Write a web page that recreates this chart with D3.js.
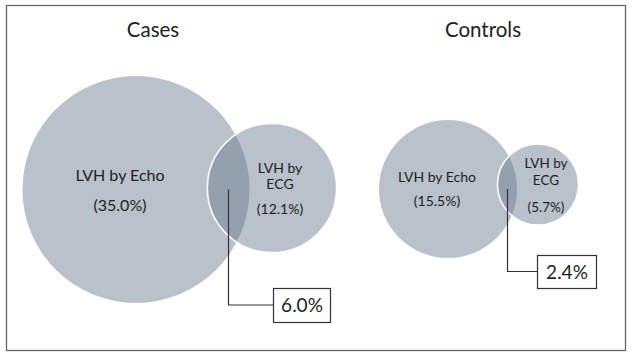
<!DOCTYPE html>
<html><head><meta charset="utf-8">
<script src="https://cdn.jsdelivr.net/npm/d3@7/dist/d3.min.js"></script>
<style>html,body{margin:0;padding:0;background:#fff;}svg{display:block;font-family:Lato,"Open Sans",sans-serif;}</style>
</head><body>
<script>
// ---- data ----
const groups = ["Cases", "Controls"];
const echoPct = [35.0, 15.5];
const ecgPct = [12.1, 5.7];
const bothPct = [6.0, 2.4];
const echoLabel = "LVH by Echo";
const ecgLabel = ["LVH by", "ECG"];

// ---- layout ----
const W = 632, H = 357;
const layout = [
  {echoCx: 136, ecgCx: 272, echoCy: 189.5, ecgCy: 188, rMax: 113.5, titleX: 153,
   echoLx: -16, echoFs: 16, echoDy: [-9, 21], ecgFs: 14, ecgDy: [-15.5, 0.5, 26],
   box: {x: 273, y: 288, w: 57, h: 34}, boxFs: 19},
  {echoCx: 448, ecgCx: 538, echoCy: 189, ecgCy: 184.5, rMax: 69, titleX: 483,
   echoLx: -11, echoFs: 14, echoDy: [-7, 17], ecgFs: 13.5, ecgDy: [-16.5, 0.5, 27.5],
   box: {x: 537, y: 255, w: 59, h: 33}, boxFs: 19}
];
const fillMain = "#b9c1cb", fillBoth = "#95a0af", ink = "#222";

const svg = d3.select("body").append("svg").attr("width", W).attr("height", H);
svg.append("rect").attr("x", 6.5).attr("y", 5.5).attr("width", 619).attr("height", 345)
  .attr("fill", "#fff").attr("stroke", "#666").attr("stroke-width", 1.3);

const defs = svg.append("defs");

groups.forEach((g, i) => {
  const L = layout[i];
  const r = d3.scalePow().exponent(0.53).domain([0, echoPct[i]]).range([0, L.rMax]);
  const r1 = r(echoPct[i]), r2 = r(ecgPct[i]);
  const G = svg.append("g");

  G.append("text").attr("x", L.titleX).attr("y", 37).attr("text-anchor", "middle")
    .attr("font-size", 20.5).attr("fill", ink).text(g);

  G.append("circle").attr("cx", L.echoCx).attr("cy", L.echoCy).attr("r", r1).attr("fill", fillMain);
  G.append("circle").attr("cx", L.ecgCx).attr("cy", L.ecgCy).attr("r", r2).attr("fill", fillMain);

  const cid = "clip" + i;
  defs.append("clipPath").attr("id", cid).append("circle")
    .attr("cx", L.echoCx).attr("cy", L.echoCy).attr("r", r1);
  G.append("circle").attr("cx", L.ecgCx).attr("cy", L.ecgCy).attr("r", r2)
    .attr("fill", fillBoth).attr("clip-path", `url(#${cid})`);
  G.append("circle").attr("cx", L.ecgCx).attr("cy", L.ecgCy).attr("r", r2)
    .attr("fill", "none").attr("stroke", "#fff").attr("stroke-width", 1.6);

  // labels
  const ex = L.echoCx + L.echoLx;
  G.append("text").attr("x", ex).attr("y", L.echoCy + L.echoDy[0]).attr("text-anchor", "middle")
    .attr("font-size", L.echoFs).attr("fill", ink).text(echoLabel);
  G.append("text").attr("x", ex).attr("y", L.echoCy + L.echoDy[1]).attr("text-anchor", "middle")
    .attr("font-size", L.echoFs).attr("fill", ink).text(`(${echoPct[i].toFixed(1)}%)`);
  const gx = L.ecgCx + 8;
  ecgLabel.forEach((t, k) => {
    G.append("text").attr("x", gx).attr("y", L.ecgCy + L.ecgDy[k]).attr("text-anchor", "middle")
      .attr("font-size", L.ecgFs).attr("fill", ink).text(t);
  });
  G.append("text").attr("x", gx).attr("y", L.ecgCy + L.ecgDy[2]).attr("text-anchor", "middle")
    .attr("font-size", L.ecgFs).attr("fill", ink).text(`(${ecgPct[i].toFixed(1)}%)`);

  // callout
  const lx = Math.round(((L.ecgCx - r2) + (L.echoCx + r1)) / 2) + 0.5;
  const by = L.box.y + L.box.h / 2;
  G.append("path").attr("d", `M${lx},${L.echoCy}V${by}H${L.box.x}`)
    .attr("fill", "none").attr("stroke", "#333").attr("stroke-width", 1.2);
  G.append("rect").attr("x", L.box.x + 0.5).attr("y", L.box.y + 0.5).attr("width", L.box.w).attr("height", L.box.h)
    .attr("fill", "#fff").attr("stroke", "#333").attr("stroke-width", 1.2);
  G.append("text").attr("x", L.box.x + L.box.w / 2 + 0.5).attr("y", by + 7).attr("text-anchor", "middle")
    .attr("font-size", L.boxFs).attr("fill", ink).text(`${bothPct[i].toFixed(1)}%`);
});
</script>
</body></html>
